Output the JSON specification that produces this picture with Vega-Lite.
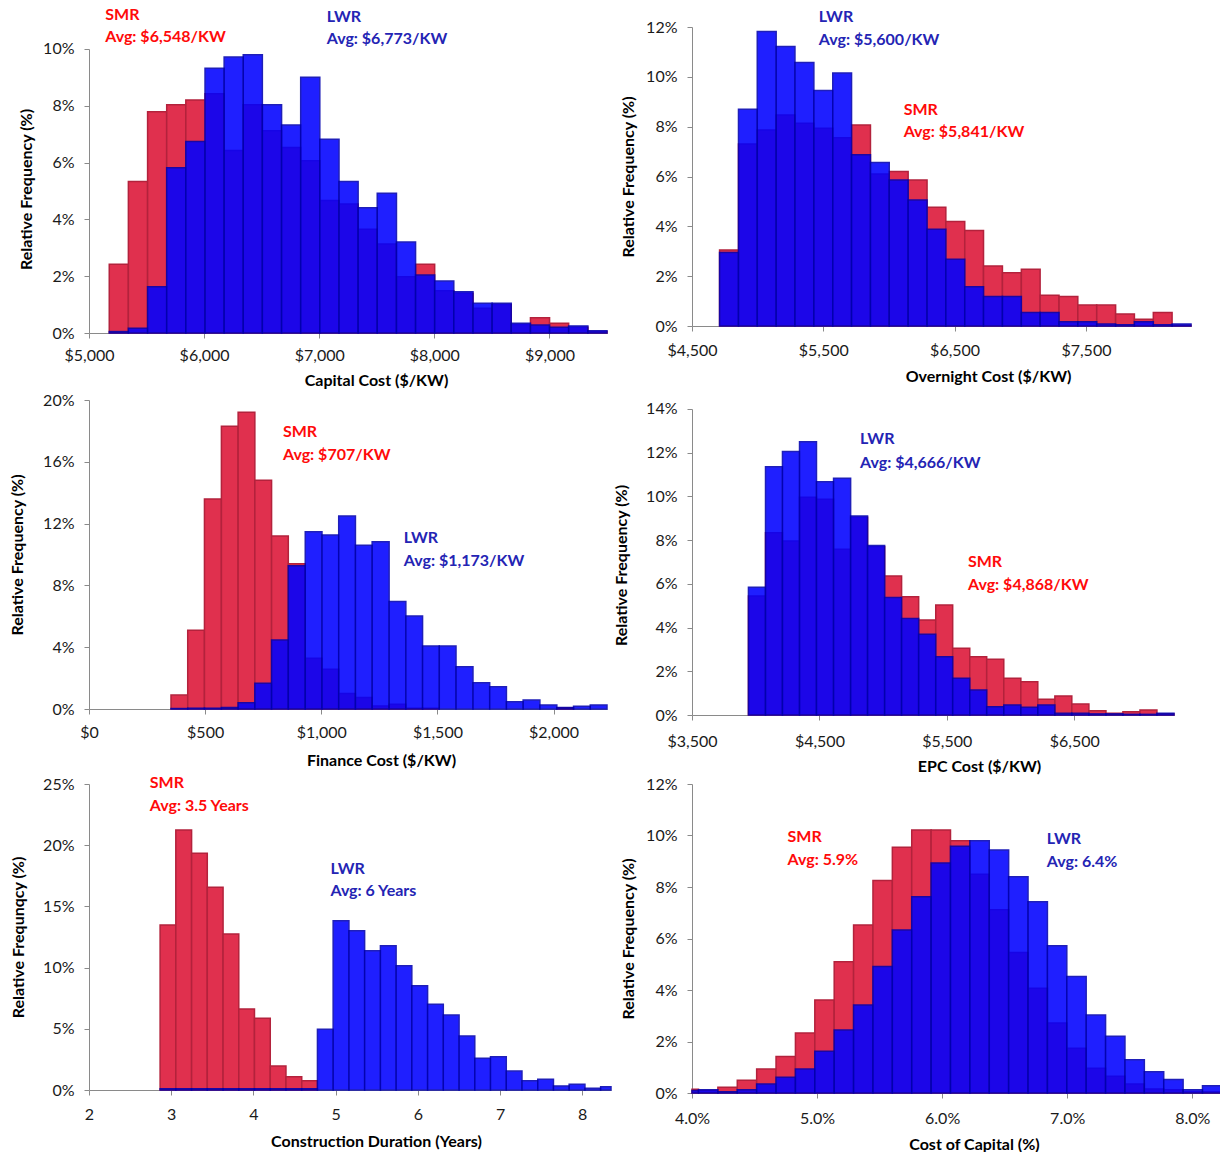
{
  "$schema": "https://vega.github.io/schema/vega-lite/v6.json",
  "background": "white",
  "padding": {"left": 9, "top": 7, "right": 0, "bottom": 0},
  "datasets": {
    "bars": [
      {"panel":"cap","series":"SMR","start":5176,"end":5342,"freq":2.42},
      {"panel":"cap","series":"SMR","start":5342,"end":5509,"freq":5.33},
      {"panel":"cap","series":"SMR","start":5509,"end":5675,"freq":7.79},
      {"panel":"cap","series":"SMR","start":5675,"end":5841,"freq":8.03},
      {"panel":"cap","series":"SMR","start":5841,"end":6008,"freq":8.2},
      {"panel":"cap","series":"SMR","start":6008,"end":6174,"freq":8.42},
      {"panel":"cap","series":"SMR","start":6174,"end":6340,"freq":6.42},
      {"panel":"cap","series":"SMR","start":6340,"end":6506,"freq":8.03},
      {"panel":"cap","series":"SMR","start":6506,"end":6673,"freq":7.12},
      {"panel":"cap","series":"SMR","start":6673,"end":6839,"freq":6.53},
      {"panel":"cap","series":"SMR","start":6839,"end":7005,"freq":6.06},
      {"panel":"cap","series":"SMR","start":7005,"end":7172,"freq":4.66},
      {"panel":"cap","series":"SMR","start":7172,"end":7338,"freq":4.54},
      {"panel":"cap","series":"SMR","start":7338,"end":7504,"freq":3.65},
      {"panel":"cap","series":"SMR","start":7504,"end":7671,"freq":3.13},
      {"panel":"cap","series":"SMR","start":7671,"end":7837,"freq":1.98},
      {"panel":"cap","series":"SMR","start":7837,"end":8003,"freq":2.42},
      {"panel":"cap","series":"SMR","start":8003,"end":8169,"freq":1.49},
      {"panel":"cap","series":"SMR","start":8169,"end":8336,"freq":1.4},
      {"panel":"cap","series":"SMR","start":8336,"end":8502,"freq":0.87},
      {"panel":"cap","series":"SMR","start":8502,"end":8668,"freq":1.0},
      {"panel":"cap","series":"SMR","start":8668,"end":8835,"freq":0.3},
      {"panel":"cap","series":"SMR","start":8835,"end":9001,"freq":0.54},
      {"panel":"cap","series":"SMR","start":9001,"end":9167,"freq":0.34},
      {"panel":"cap","series":"SMR","start":9167,"end":9334,"freq":0.2},
      {"panel":"cap","series":"SMR","start":9334,"end":9500,"freq":0.05},
      {"panel":"cap","series":"LWR","start":5176,"end":5342,"freq":0.05},
      {"panel":"cap","series":"LWR","start":5342,"end":5509,"freq":0.17},
      {"panel":"cap","series":"LWR","start":5509,"end":5675,"freq":1.63},
      {"panel":"cap","series":"LWR","start":5675,"end":5841,"freq":5.82},
      {"panel":"cap","series":"LWR","start":5841,"end":6008,"freq":6.74},
      {"panel":"cap","series":"LWR","start":6008,"end":6174,"freq":9.32},
      {"panel":"cap","series":"LWR","start":6174,"end":6340,"freq":9.71},
      {"panel":"cap","series":"LWR","start":6340,"end":6506,"freq":9.79},
      {"panel":"cap","series":"LWR","start":6506,"end":6673,"freq":8.03},
      {"panel":"cap","series":"LWR","start":6673,"end":6839,"freq":7.32},
      {"panel":"cap","series":"LWR","start":6839,"end":7005,"freq":9.0},
      {"panel":"cap","series":"LWR","start":7005,"end":7172,"freq":6.82},
      {"panel":"cap","series":"LWR","start":7172,"end":7338,"freq":5.33},
      {"panel":"cap","series":"LWR","start":7338,"end":7504,"freq":4.41},
      {"panel":"cap","series":"LWR","start":7504,"end":7671,"freq":4.92},
      {"panel":"cap","series":"LWR","start":7671,"end":7837,"freq":3.2},
      {"panel":"cap","series":"LWR","start":7837,"end":8003,"freq":2.04},
      {"panel":"cap","series":"LWR","start":8003,"end":8169,"freq":1.83},
      {"panel":"cap","series":"LWR","start":8169,"end":8336,"freq":1.45},
      {"panel":"cap","series":"LWR","start":8336,"end":8502,"freq":1.05},
      {"panel":"cap","series":"LWR","start":8502,"end":8668,"freq":1.05},
      {"panel":"cap","series":"LWR","start":8668,"end":8835,"freq":0.34},
      {"panel":"cap","series":"LWR","start":8835,"end":9001,"freq":0.28},
      {"panel":"cap","series":"LWR","start":9001,"end":9167,"freq":0.2},
      {"panel":"cap","series":"LWR","start":9167,"end":9334,"freq":0.25},
      {"panel":"cap","series":"LWR","start":9334,"end":9500,"freq":0.08},

      {"panel":"ovn","series":"SMR","start":4710,"end":4854,"freq":3.05},
      {"panel":"ovn","series":"SMR","start":4854,"end":4997,"freq":7.3},
      {"panel":"ovn","series":"SMR","start":4997,"end":5141,"freq":7.87},
      {"panel":"ovn","series":"SMR","start":5141,"end":5284,"freq":8.47},
      {"panel":"ovn","series":"SMR","start":5284,"end":5428,"freq":8.14},
      {"panel":"ovn","series":"SMR","start":5428,"end":5572,"freq":7.94},
      {"panel":"ovn","series":"SMR","start":5572,"end":5715,"freq":7.56},
      {"panel":"ovn","series":"SMR","start":5715,"end":5859,"freq":8.07},
      {"panel":"ovn","series":"SMR","start":5859,"end":6002,"freq":6.1},
      {"panel":"ovn","series":"SMR","start":6002,"end":6146,"freq":6.2},
      {"panel":"ovn","series":"SMR","start":6146,"end":6290,"freq":5.86},
      {"panel":"ovn","series":"SMR","start":6290,"end":6433,"freq":4.77},
      {"panel":"ovn","series":"SMR","start":6433,"end":6577,"freq":4.19},
      {"panel":"ovn","series":"SMR","start":6577,"end":6720,"freq":3.83},
      {"panel":"ovn","series":"SMR","start":6720,"end":6864,"freq":2.41},
      {"panel":"ovn","series":"SMR","start":6864,"end":7008,"freq":2.14},
      {"panel":"ovn","series":"SMR","start":7008,"end":7151,"freq":2.28},
      {"panel":"ovn","series":"SMR","start":7151,"end":7295,"freq":1.23},
      {"panel":"ovn","series":"SMR","start":7295,"end":7438,"freq":1.18},
      {"panel":"ovn","series":"SMR","start":7438,"end":7582,"freq":0.84},
      {"panel":"ovn","series":"SMR","start":7582,"end":7726,"freq":0.84},
      {"panel":"ovn","series":"SMR","start":7726,"end":7869,"freq":0.48},
      {"panel":"ovn","series":"SMR","start":7869,"end":8013,"freq":0.27},
      {"panel":"ovn","series":"SMR","start":8013,"end":8156,"freq":0.54},
      {"panel":"ovn","series":"SMR","start":8156,"end":8300,"freq":0.03},
      {"panel":"ovn","series":"LWR","start":4710,"end":4854,"freq":2.95},
      {"panel":"ovn","series":"LWR","start":4854,"end":4997,"freq":8.7},
      {"panel":"ovn","series":"LWR","start":4997,"end":5141,"freq":11.82},
      {"panel":"ovn","series":"LWR","start":5141,"end":5284,"freq":11.22},
      {"panel":"ovn","series":"LWR","start":5284,"end":5428,"freq":10.58},
      {"panel":"ovn","series":"LWR","start":5428,"end":5572,"freq":9.45},
      {"panel":"ovn","series":"LWR","start":5572,"end":5715,"freq":10.15},
      {"panel":"ovn","series":"LWR","start":5715,"end":5859,"freq":6.87},
      {"panel":"ovn","series":"LWR","start":5859,"end":6002,"freq":6.56},
      {"panel":"ovn","series":"LWR","start":6002,"end":6146,"freq":5.86},
      {"panel":"ovn","series":"LWR","start":6146,"end":6290,"freq":5.06},
      {"panel":"ovn","series":"LWR","start":6290,"end":6433,"freq":3.88},
      {"panel":"ovn","series":"LWR","start":6433,"end":6577,"freq":2.68},
      {"panel":"ovn","series":"LWR","start":6577,"end":6720,"freq":1.58},
      {"panel":"ovn","series":"LWR","start":6720,"end":6864,"freq":1.18},
      {"panel":"ovn","series":"LWR","start":6864,"end":7008,"freq":1.18},
      {"panel":"ovn","series":"LWR","start":7008,"end":7151,"freq":0.54},
      {"panel":"ovn","series":"LWR","start":7151,"end":7295,"freq":0.54},
      {"panel":"ovn","series":"LWR","start":7295,"end":7438,"freq":0.17},
      {"panel":"ovn","series":"LWR","start":7438,"end":7582,"freq":0.17},
      {"panel":"ovn","series":"LWR","start":7582,"end":7726,"freq":0.08},
      {"panel":"ovn","series":"LWR","start":7726,"end":7869,"freq":0.05},
      {"panel":"ovn","series":"LWR","start":7869,"end":8013,"freq":0.17},
      {"panel":"ovn","series":"LWR","start":8013,"end":8156,"freq":0.05},
      {"panel":"ovn","series":"LWR","start":8156,"end":8300,"freq":0.08},

      {"panel":"fin","series":"SMR","start":353,"end":425,"freq":0.9},
      {"panel":"fin","series":"SMR","start":425,"end":497,"freq":5.1},
      {"panel":"fin","series":"SMR","start":497,"end":570,"freq":13.6},
      {"panel":"fin","series":"SMR","start":570,"end":642,"freq":18.3},
      {"panel":"fin","series":"SMR","start":642,"end":714,"freq":19.2},
      {"panel":"fin","series":"SMR","start":714,"end":786,"freq":14.8},
      {"panel":"fin","series":"SMR","start":786,"end":858,"freq":11.2},
      {"panel":"fin","series":"SMR","start":858,"end":931,"freq":9.4},
      {"panel":"fin","series":"SMR","start":931,"end":1003,"freq":3.28},
      {"panel":"fin","series":"SMR","start":1003,"end":1075,"freq":2.57},
      {"panel":"fin","series":"SMR","start":1075,"end":1147,"freq":1.0},
      {"panel":"fin","series":"SMR","start":1147,"end":1219,"freq":0.75},
      {"panel":"fin","series":"SMR","start":1219,"end":1292,"freq":0.2},
      {"panel":"fin","series":"SMR","start":1292,"end":1364,"freq":0.3},
      {"panel":"fin","series":"SMR","start":1364,"end":1436,"freq":0.05},
      {"panel":"fin","series":"SMR","start":1436,"end":1508,"freq":0.05},
      {"panel":"fin","series":"SMR","start":2014,"end":2086,"freq":0.08},
      {"panel":"fin","series":"LWR","start":353,"end":425,"freq":0.03},
      {"panel":"fin","series":"LWR","start":425,"end":497,"freq":0.05},
      {"panel":"fin","series":"LWR","start":497,"end":570,"freq":0.05},
      {"panel":"fin","series":"LWR","start":570,"end":642,"freq":0.1},
      {"panel":"fin","series":"LWR","start":642,"end":714,"freq":0.4},
      {"panel":"fin","series":"LWR","start":714,"end":786,"freq":1.66},
      {"panel":"fin","series":"LWR","start":786,"end":858,"freq":4.47},
      {"panel":"fin","series":"LWR","start":858,"end":931,"freq":9.27},
      {"panel":"fin","series":"LWR","start":931,"end":1003,"freq":11.48},
      {"panel":"fin","series":"LWR","start":1003,"end":1075,"freq":11.26},
      {"panel":"fin","series":"LWR","start":1075,"end":1147,"freq":12.5},
      {"panel":"fin","series":"LWR","start":1147,"end":1219,"freq":10.6},
      {"panel":"fin","series":"LWR","start":1219,"end":1292,"freq":10.83},
      {"panel":"fin","series":"LWR","start":1292,"end":1364,"freq":6.95},
      {"panel":"fin","series":"LWR","start":1364,"end":1436,"freq":6.02},
      {"panel":"fin","series":"LWR","start":1436,"end":1508,"freq":4.08},
      {"panel":"fin","series":"LWR","start":1508,"end":1580,"freq":4.08},
      {"panel":"fin","series":"LWR","start":1580,"end":1653,"freq":2.74},
      {"panel":"fin","series":"LWR","start":1653,"end":1725,"freq":1.7},
      {"panel":"fin","series":"LWR","start":1725,"end":1797,"freq":1.44},
      {"panel":"fin","series":"LWR","start":1797,"end":1869,"freq":0.47},
      {"panel":"fin","series":"LWR","start":1869,"end":1941,"freq":0.58},
      {"panel":"fin","series":"LWR","start":1941,"end":2014,"freq":0.26},
      {"panel":"fin","series":"LWR","start":2014,"end":2086,"freq":0.1},
      {"panel":"fin","series":"LWR","start":2086,"end":2158,"freq":0.17},
      {"panel":"fin","series":"LWR","start":2158,"end":2230,"freq":0.26},

      {"panel":"epc","series":"SMR","start":3943,"end":4077,"freq":5.44},
      {"panel":"epc","series":"SMR","start":4077,"end":4210,"freq":8.34},
      {"panel":"epc","series":"SMR","start":4210,"end":4344,"freq":7.96},
      {"panel":"epc","series":"SMR","start":4344,"end":4477,"freq":9.96},
      {"panel":"epc","series":"SMR","start":4477,"end":4611,"freq":9.87},
      {"panel":"epc","series":"SMR","start":4611,"end":4745,"freq":7.58},
      {"panel":"epc","series":"SMR","start":4745,"end":4878,"freq":9.05},
      {"panel":"epc","series":"SMR","start":4878,"end":5012,"freq":7.7},
      {"panel":"epc","series":"SMR","start":5012,"end":5145,"freq":6.36},
      {"panel":"epc","series":"SMR","start":5145,"end":5279,"freq":5.41},
      {"panel":"epc","series":"SMR","start":5279,"end":5413,"freq":4.35},
      {"panel":"epc","series":"SMR","start":5413,"end":5546,"freq":5.03},
      {"panel":"epc","series":"SMR","start":5546,"end":5680,"freq":3.05},
      {"panel":"epc","series":"SMR","start":5680,"end":5813,"freq":2.67},
      {"panel":"epc","series":"SMR","start":5813,"end":5947,"freq":2.55},
      {"panel":"epc","series":"SMR","start":5947,"end":6081,"freq":1.68},
      {"panel":"epc","series":"SMR","start":6081,"end":6214,"freq":1.52},
      {"panel":"epc","series":"SMR","start":6214,"end":6348,"freq":0.72},
      {"panel":"epc","series":"SMR","start":6348,"end":6481,"freq":0.87},
      {"panel":"epc","series":"SMR","start":6481,"end":6615,"freq":0.5},
      {"panel":"epc","series":"SMR","start":6615,"end":6749,"freq":0.2},
      {"panel":"epc","series":"SMR","start":6749,"end":6882,"freq":0.08},
      {"panel":"epc","series":"SMR","start":6882,"end":7016,"freq":0.15},
      {"panel":"epc","series":"SMR","start":7016,"end":7149,"freq":0.23},
      {"panel":"epc","series":"SMR","start":7149,"end":7283,"freq":0.05},
      {"panel":"epc","series":"LWR","start":3943,"end":4077,"freq":5.84},
      {"panel":"epc","series":"LWR","start":4077,"end":4210,"freq":11.36},
      {"panel":"epc","series":"LWR","start":4210,"end":4344,"freq":12.05},
      {"panel":"epc","series":"LWR","start":4344,"end":4477,"freq":12.5},
      {"panel":"epc","series":"LWR","start":4477,"end":4611,"freq":10.67},
      {"panel":"epc","series":"LWR","start":4611,"end":4745,"freq":10.83},
      {"panel":"epc","series":"LWR","start":4745,"end":4878,"freq":9.1},
      {"panel":"epc","series":"LWR","start":4878,"end":5012,"freq":7.75},
      {"panel":"epc","series":"LWR","start":5012,"end":5145,"freq":5.38},
      {"panel":"epc","series":"LWR","start":5145,"end":5279,"freq":4.42},
      {"panel":"epc","series":"LWR","start":5279,"end":5413,"freq":3.69},
      {"panel":"epc","series":"LWR","start":5413,"end":5546,"freq":2.67},
      {"panel":"epc","series":"LWR","start":5546,"end":5680,"freq":1.68},
      {"panel":"epc","series":"LWR","start":5680,"end":5813,"freq":1.14},
      {"panel":"epc","series":"LWR","start":5813,"end":5947,"freq":0.38},
      {"panel":"epc","series":"LWR","start":5947,"end":6081,"freq":0.46},
      {"panel":"epc","series":"LWR","start":6081,"end":6214,"freq":0.35},
      {"panel":"epc","series":"LWR","start":6214,"end":6348,"freq":0.46},
      {"panel":"epc","series":"LWR","start":6348,"end":6481,"freq":0.08},
      {"panel":"epc","series":"LWR","start":6481,"end":6615,"freq":0.08},
      {"panel":"epc","series":"LWR","start":6615,"end":6749,"freq":0.05},
      {"panel":"epc","series":"LWR","start":6749,"end":6882,"freq":0.05},
      {"panel":"epc","series":"LWR","start":6882,"end":7016,"freq":0.03},
      {"panel":"epc","series":"LWR","start":7016,"end":7149,"freq":0.03},
      {"panel":"epc","series":"LWR","start":7149,"end":7283,"freq":0.08},

      {"panel":"dur","series":"SMR","start":2.865,"end":3.056,"freq":13.48},
      {"panel":"dur","series":"SMR","start":3.056,"end":3.248,"freq":21.24},
      {"panel":"dur","series":"SMR","start":3.248,"end":3.439,"freq":19.34},
      {"panel":"dur","series":"SMR","start":3.439,"end":3.631,"freq":16.56},
      {"panel":"dur","series":"SMR","start":3.631,"end":3.822,"freq":12.75},
      {"panel":"dur","series":"SMR","start":3.822,"end":4.013,"freq":6.62},
      {"panel":"dur","series":"SMR","start":4.013,"end":4.205,"freq":5.86},
      {"panel":"dur","series":"SMR","start":4.205,"end":4.396,"freq":1.96},
      {"panel":"dur","series":"SMR","start":4.396,"end":4.588,"freq":1.09},
      {"panel":"dur","series":"SMR","start":4.588,"end":4.779,"freq":0.76},
      {"panel":"dur","series":"LWR","start":2.865,"end":3.056,"freq":0.1},
      {"panel":"dur","series":"LWR","start":3.056,"end":3.248,"freq":0.1},
      {"panel":"dur","series":"LWR","start":3.248,"end":3.439,"freq":0.1},
      {"panel":"dur","series":"LWR","start":3.439,"end":3.631,"freq":0.1},
      {"panel":"dur","series":"LWR","start":3.631,"end":3.822,"freq":0.1},
      {"panel":"dur","series":"LWR","start":3.822,"end":4.013,"freq":0.1},
      {"panel":"dur","series":"LWR","start":4.013,"end":4.205,"freq":0.1},
      {"panel":"dur","series":"LWR","start":4.205,"end":4.396,"freq":0.1},
      {"panel":"dur","series":"LWR","start":4.396,"end":4.588,"freq":0.1},
      {"panel":"dur","series":"LWR","start":4.588,"end":4.779,"freq":0.1},
      {"panel":"dur","series":"LWR","start":4.779,"end":4.970,"freq":4.96},
      {"panel":"dur","series":"LWR","start":4.970,"end":5.162,"freq":13.83},
      {"panel":"dur","series":"LWR","start":5.162,"end":5.353,"freq":13.01},
      {"panel":"dur","series":"LWR","start":5.353,"end":5.545,"freq":11.38},
      {"panel":"dur","series":"LWR","start":5.545,"end":5.736,"freq":11.79},
      {"panel":"dur","series":"LWR","start":5.736,"end":5.927,"freq":10.16},
      {"panel":"dur","series":"LWR","start":5.927,"end":6.119,"freq":8.52},
      {"panel":"dur","series":"LWR","start":6.119,"end":6.310,"freq":7.0},
      {"panel":"dur","series":"LWR","start":6.310,"end":6.502,"freq":6.13},
      {"panel":"dur","series":"LWR","start":6.502,"end":6.693,"freq":4.41},
      {"panel":"dur","series":"LWR","start":6.693,"end":6.884,"freq":2.59},
      {"panel":"dur","series":"LWR","start":6.884,"end":7.076,"freq":2.72},
      {"panel":"dur","series":"LWR","start":7.076,"end":7.267,"freq":1.55},
      {"panel":"dur","series":"LWR","start":7.267,"end":7.459,"freq":0.76},
      {"panel":"dur","series":"LWR","start":7.459,"end":7.650,"freq":0.87},
      {"panel":"dur","series":"LWR","start":7.650,"end":7.841,"freq":0.33},
      {"panel":"dur","series":"LWR","start":7.841,"end":8.033,"freq":0.46},
      {"panel":"dur","series":"LWR","start":8.033,"end":8.224,"freq":0.14},
      {"panel":"dur","series":"LWR","start":8.224,"end":8.35,"freq":0.27},

      {"panel":"coc","series":"SMR","start":4.0,"end":4.052,"freq":0.15},
      {"panel":"coc","series":"SMR","start":4.052,"end":4.207,"freq":0.1},
      {"panel":"coc","series":"SMR","start":4.207,"end":4.362,"freq":0.22},
      {"panel":"coc","series":"SMR","start":4.362,"end":4.517,"freq":0.5},
      {"panel":"coc","series":"SMR","start":4.517,"end":4.672,"freq":0.93},
      {"panel":"coc","series":"SMR","start":4.672,"end":4.827,"freq":1.42},
      {"panel":"coc","series":"SMR","start":4.827,"end":4.982,"freq":2.33},
      {"panel":"coc","series":"SMR","start":4.982,"end":5.137,"freq":3.61},
      {"panel":"coc","series":"SMR","start":5.137,"end":5.292,"freq":5.1},
      {"panel":"coc","series":"SMR","start":5.292,"end":5.447,"freq":6.52},
      {"panel":"coc","series":"SMR","start":5.447,"end":5.602,"freq":8.25},
      {"panel":"coc","series":"SMR","start":5.602,"end":5.757,"freq":9.54},
      {"panel":"coc","series":"SMR","start":5.757,"end":5.912,"freq":10.21},
      {"panel":"coc","series":"SMR","start":5.912,"end":6.067,"freq":10.21},
      {"panel":"coc","series":"SMR","start":6.067,"end":6.222,"freq":9.8},
      {"panel":"coc","series":"SMR","start":6.222,"end":6.377,"freq":8.5},
      {"panel":"coc","series":"SMR","start":6.377,"end":6.532,"freq":7.12},
      {"panel":"coc","series":"SMR","start":6.532,"end":6.687,"freq":5.46},
      {"panel":"coc","series":"SMR","start":6.687,"end":6.842,"freq":4.07},
      {"panel":"coc","series":"SMR","start":6.842,"end":6.997,"freq":2.72},
      {"panel":"coc","series":"SMR","start":6.997,"end":7.152,"freq":1.74},
      {"panel":"coc","series":"SMR","start":7.152,"end":7.307,"freq":0.96},
      {"panel":"coc","series":"SMR","start":7.307,"end":7.462,"freq":0.65},
      {"panel":"coc","series":"SMR","start":7.462,"end":7.617,"freq":0.35},
      {"panel":"coc","series":"SMR","start":7.617,"end":7.772,"freq":0.16},
      {"panel":"coc","series":"SMR","start":7.772,"end":7.927,"freq":0.13},
      {"panel":"coc","series":"SMR","start":7.927,"end":8.082,"freq":0.05},
      {"panel":"coc","series":"SMR","start":8.082,"end":8.23,"freq":0.05},
      {"panel":"coc","series":"LWR","start":4.0,"end":4.052,"freq":0.1},
      {"panel":"coc","series":"LWR","start":4.052,"end":4.207,"freq":0.13},
      {"panel":"coc","series":"LWR","start":4.207,"end":4.362,"freq":0.05},
      {"panel":"coc","series":"LWR","start":4.362,"end":4.517,"freq":0.13},
      {"panel":"coc","series":"LWR","start":4.517,"end":4.672,"freq":0.35},
      {"panel":"coc","series":"LWR","start":4.672,"end":4.827,"freq":0.61},
      {"panel":"coc","series":"LWR","start":4.827,"end":4.982,"freq":0.93},
      {"panel":"coc","series":"LWR","start":4.982,"end":5.137,"freq":1.62},
      {"panel":"coc","series":"LWR","start":5.137,"end":5.292,"freq":2.45},
      {"panel":"coc","series":"LWR","start":5.292,"end":5.447,"freq":3.42},
      {"panel":"coc","series":"LWR","start":5.447,"end":5.602,"freq":4.91},
      {"panel":"coc","series":"LWR","start":5.602,"end":5.757,"freq":6.33},
      {"panel":"coc","series":"LWR","start":5.757,"end":5.912,"freq":7.62},
      {"panel":"coc","series":"LWR","start":5.912,"end":6.067,"freq":8.93},
      {"panel":"coc","series":"LWR","start":6.067,"end":6.222,"freq":9.58},
      {"panel":"coc","series":"LWR","start":6.222,"end":6.377,"freq":9.8},
      {"panel":"coc","series":"LWR","start":6.377,"end":6.532,"freq":9.44},
      {"panel":"coc","series":"LWR","start":6.532,"end":6.687,"freq":8.4},
      {"panel":"coc","series":"LWR","start":6.687,"end":6.842,"freq":7.43},
      {"panel":"coc","series":"LWR","start":6.842,"end":6.997,"freq":5.72},
      {"panel":"coc","series":"LWR","start":6.997,"end":7.152,"freq":4.52},
      {"panel":"coc","series":"LWR","start":7.152,"end":7.307,"freq":3.03},
      {"panel":"coc","series":"LWR","start":7.307,"end":7.462,"freq":2.2},
      {"panel":"coc","series":"LWR","start":7.462,"end":7.617,"freq":1.29},
      {"panel":"coc","series":"LWR","start":7.617,"end":7.772,"freq":0.83},
      {"panel":"coc","series":"LWR","start":7.772,"end":7.927,"freq":0.52},
      {"panel":"coc","series":"LWR","start":7.927,"end":8.082,"freq":0.13},
      {"panel":"coc","series":"LWR","start":8.082,"end":8.23,"freq":0.28}
    ],
    "notes": [
      {"panel":"cap","series":"SMR","x":5141,"y":11.19,"label":"SMR"},
      {"panel":"cap","series":"SMR","x":5141,"y":10.42,"label":"Avg: $6,548/KW"},
      {"panel":"cap","series":"LWR","x":7065,"y":11.12,"label":"LWR"},
      {"panel":"cap","series":"LWR","x":7065,"y":10.35,"label":"Avg: $6,773/KW"},
      {"panel":"ovn","series":"LWR","x":5466,"y":12.42,"label":"LWR"},
      {"panel":"ovn","series":"LWR","x":5466,"y":11.46,"label":"Avg: $5,600/KW"},
      {"panel":"ovn","series":"SMR","x":6112,"y":8.67,"label":"SMR"},
      {"panel":"ovn","series":"SMR","x":6112,"y":7.8,"label":"Avg: $5,841/KW"},
      {"panel":"fin","series":"SMR","x":835,"y":17.93,"label":"SMR"},
      {"panel":"fin","series":"SMR","x":835,"y":16.44,"label":"Avg: $707/KW"},
      {"panel":"fin","series":"LWR","x":1355,"y":11.1,"label":"LWR"},
      {"panel":"fin","series":"LWR","x":1355,"y":9.58,"label":"Avg: $1,173/KW"},
      {"panel":"epc","series":"LWR","x":4819,"y":12.63,"label":"LWR"},
      {"panel":"epc","series":"LWR","x":4819,"y":11.55,"label":"Avg: $4,666/KW"},
      {"panel":"epc","series":"SMR","x":5666,"y":7.0,"label":"SMR"},
      {"panel":"epc","series":"SMR","x":5666,"y":5.95,"label":"Avg: $4,868/KW"},
      {"panel":"dur","series":"SMR","x":2.74,"y":25.08,"label":"SMR"},
      {"panel":"dur","series":"SMR","x":2.74,"y":23.2,"label":"Avg: 3.5 Years"},
      {"panel":"dur","series":"LWR","x":4.937,"y":18.06,"label":"LWR"},
      {"panel":"dur","series":"LWR","x":4.937,"y":16.22,"label":"Avg: 6 Years"},
      {"panel":"coc","series":"SMR","x":4.764,"y":9.96,"label":"SMR"},
      {"panel":"coc","series":"SMR","x":4.764,"y":9.05,"label":"Avg: 5.9%"},
      {"panel":"coc","series":"LWR","x":6.837,"y":9.88,"label":"LWR"},
      {"panel":"coc","series":"LWR","x":6.837,"y":8.99,"label":"Avg: 6.4%"}
    ]
  },
  "spacing": 4,
  "vconcat": [
    {
      "spacing": 12,
      "hconcat": [
        {
          "width": 518, "height": 306,
          "layer": [
            {"data": {"name": "bars"}, "transform": [{"filter": "datum.panel == 'cap' && datum.series == 'SMR'"}],
             "mark": {"type": "bar", "fill": "#e0304e", "stroke": "#b3223c", "strokeWidth": 1.5},
             "encoding": {
               "x": {"field": "start", "type": "quantitative", "title": "Capital Cost ($/KW)", "scale": {"domain": [5000, 9500], "nice": false, "zero": false, "padding": 0}, "axis": {"values": [5000, 6000, 7000, 8000, 9000], "format": "$,.0f", "titleX": 287, "labelPadding": 9, "titlePadding": 9}},
               "x2": {"field": "end"},
               "y": {"field": "freq", "type": "quantitative", "title": "Relative Frequency (%)", "scale": {"domain": [0, 10.77], "nice": false, "padding": 0}, "axis": {"values": [0, 2, 4, 6, 8, 10], "labelExpr": "datum.value + '%'", "titlePadding": 8, "titleY": 162, "domainDash": [284, 1000]}},
               "y2": {"datum": 0}
             }},
            {"data": {"name": "bars"}, "transform": [{"filter": "datum.panel == 'cap' && datum.series == 'LWR'"}],
             "mark": {"type": "bar", "fill": "#0000ff", "stroke": "#0000b0", "strokeWidth": 1.5, "opacity": 0.875},
             "encoding": {
               "x": {"field": "start", "type": "quantitative", "title": "Capital Cost ($/KW)", "scale": {"domain": [5000, 9500], "nice": false, "zero": false, "padding": 0}},
               "x2": {"field": "end"},
               "y": {"field": "freq", "type": "quantitative", "title": "Relative Frequency (%)", "scale": {"domain": [0, 10.77], "nice": false, "padding": 0}},
               "y2": {"datum": 0}
             }},
            {"data": {"name": "notes"}, "transform": [{"filter": "datum.panel == 'cap'"}],
             "mark": {"type": "text", "align": "left", "baseline": "middle", "fontSize": 16, "fontWeight": "bold"},
             "encoding": {
               "x": {"field": "x", "type": "quantitative", "title": "Capital Cost ($/KW)", "scale": {"domain": [5000, 9500], "nice": false, "zero": false, "padding": 0}},
               "y": {"field": "y", "type": "quantitative", "title": "Relative Frequency (%)", "scale": {"domain": [0, 10.77], "nice": false, "padding": 0}},
               "text": {"field": "label"},
               "color": {"field": "series", "type": "nominal", "scale": {"domain": ["SMR", "LWR"], "range": ["#ff0a0a", "#2424b4"]}, "legend": null}
             }}
          ]
        },
        {
          "width": 499, "height": 299,
          "layer": [
            {"data": {"name": "bars"}, "transform": [{"filter": "datum.panel == 'ovn' && datum.series == 'SMR'"}],
             "mark": {"type": "bar", "fill": "#e0304e", "stroke": "#b3223c", "strokeWidth": 1.5},
             "encoding": {
               "x": {"field": "start", "type": "quantitative", "title": "Overnight Cost ($/KW)", "scale": {"domain": [4500, 8300], "nice": false, "zero": false, "padding": 0}, "axis": {"values": [4500, 5500, 6500, 7500], "format": "$,.0f", "titleX": 296, "labelPadding": 11, "titlePadding": 10}},
               "x2": {"field": "end"},
               "y": {"field": "freq", "type": "quantitative", "title": "Relative Frequency (%)", "scale": {"domain": [0, 12], "nice": false, "padding": 0}, "axis": {"values": [0, 2, 4, 6, 8, 10, 12], "labelExpr": "datum.value + '%'", "titlePadding": 9}},
               "y2": {"datum": 0}
             }},
            {"data": {"name": "bars"}, "transform": [{"filter": "datum.panel == 'ovn' && datum.series == 'LWR'"}],
             "mark": {"type": "bar", "fill": "#0000ff", "stroke": "#0000b0", "strokeWidth": 1.5, "opacity": 0.875},
             "encoding": {
               "x": {"field": "start", "type": "quantitative", "title": "Overnight Cost ($/KW)", "scale": {"domain": [4500, 8300], "nice": false, "zero": false, "padding": 0}},
               "x2": {"field": "end"},
               "y": {"field": "freq", "type": "quantitative", "title": "Relative Frequency (%)", "scale": {"domain": [0, 12], "nice": false, "padding": 0}},
               "y2": {"datum": 0}
             }},
            {"data": {"name": "notes"}, "transform": [{"filter": "datum.panel == 'ovn'"}],
             "mark": {"type": "text", "align": "left", "baseline": "middle", "fontSize": 16, "fontWeight": "bold"},
             "encoding": {
               "x": {"field": "x", "type": "quantitative", "title": "Overnight Cost ($/KW)", "scale": {"domain": [4500, 8300], "nice": false, "zero": false, "padding": 0}},
               "y": {"field": "y", "type": "quantitative", "title": "Relative Frequency (%)", "scale": {"domain": [0, 12], "nice": false, "padding": 0}},
               "text": {"field": "label"},
               "color": {"field": "series", "type": "nominal", "scale": {"domain": ["SMR", "LWR"], "range": ["#ff0a0a", "#2424b4"]}, "legend": null}
             }}
          ]
        }
      ]
    },
    {
      "spacing": 1,
      "vconcat": [
        {
          "spacing": 5,
          "hconcat": [
            {
              "width": 518, "height": 309,
              "layer": [
                {"data": {"name": "bars"}, "transform": [{"filter": "datum.panel == 'fin' && datum.series == 'SMR'"}],
                 "mark": {"type": "bar", "fill": "#e0304e", "stroke": "#b3223c", "strokeWidth": 1.5},
                 "encoding": {
                   "x": {"field": "start", "type": "quantitative", "title": "Finance Cost ($/KW)", "scale": {"domain": [0, 2230], "nice": false, "zero": false, "padding": 0}, "axis": {"values": [0, 500, 1000, 1500, 2000], "format": "$,.0f", "titleX": 292, "labelPadding": 10, "titlePadding": 12}},
                   "x2": {"field": "end"},
                   "y": {"field": "freq", "type": "quantitative", "title": "Relative Frequency (%)", "scale": {"domain": [0, 20], "nice": false, "padding": 0}, "axis": {"values": [0, 4, 8, 12, 16, 20], "labelExpr": "datum.value + '%'", "titlePadding": 17}},
                   "y2": {"datum": 0}
                 }},
                {"data": {"name": "bars"}, "transform": [{"filter": "datum.panel == 'fin' && datum.series == 'LWR'"}],
                 "mark": {"type": "bar", "fill": "#0000ff", "stroke": "#0000b0", "strokeWidth": 1.5, "opacity": 0.875},
                 "encoding": {
                   "x": {"field": "start", "type": "quantitative", "title": "Finance Cost ($/KW)", "scale": {"domain": [0, 2230], "nice": false, "zero": false, "padding": 0}},
                   "x2": {"field": "end"},
                   "y": {"field": "freq", "type": "quantitative", "title": "Relative Frequency (%)", "scale": {"domain": [0, 20], "nice": false, "padding": 0}},
                   "y2": {"datum": 0}
                 }},
                {"data": {"name": "notes"}, "transform": [{"filter": "datum.panel == 'fin'"}],
                 "mark": {"type": "text", "align": "left", "baseline": "middle", "fontSize": 16, "fontWeight": "bold"},
                 "encoding": {
                   "x": {"field": "x", "type": "quantitative", "title": "Finance Cost ($/KW)", "scale": {"domain": [0, 2230], "nice": false, "zero": false, "padding": 0}},
                   "y": {"field": "y", "type": "quantitative", "title": "Relative Frequency (%)", "scale": {"domain": [0, 20], "nice": false, "padding": 0}},
                   "text": {"field": "label"},
                   "color": {"field": "series", "type": "nominal", "scale": {"domain": ["SMR", "LWR"], "range": ["#ff0a0a", "#2424b4"]}, "legend": null}
                 }}
              ]
            },
            {
              "width": 482, "height": 315,
              "layer": [
                {"data": {"name": "bars"}, "transform": [{"filter": "datum.panel == 'epc' && datum.series == 'SMR'"}],
                 "mark": {"type": "bar", "fill": "#e0304e", "stroke": "#b3223c", "strokeWidth": 1.5},
                 "encoding": {
                   "x": {"field": "start", "type": "quantitative", "title": "EPC Cost ($/KW)", "scale": {"domain": [3500, 7283], "nice": false, "zero": false, "padding": 0}, "axis": {"values": [3500, 4500, 5500, 6500], "format": "$,.0f", "titleX": 287, "labelPadding": 13, "titlePadding": 9}},
                   "x2": {"field": "end"},
                   "y": {"field": "freq", "type": "quantitative", "title": "Relative Frequency (%)", "scale": {"domain": [0, 14.41], "nice": false, "padding": 0}, "axis": {"values": [0, 2, 4, 6, 8, 10, 12, 14], "labelExpr": "datum.value + '%'", "titlePadding": 16, "titleY": 165, "domainDash": [306, 1000]}},
                   "y2": {"datum": 0}
                 }},
                {"data": {"name": "bars"}, "transform": [{"filter": "datum.panel == 'epc' && datum.series == 'LWR'"}],
                 "mark": {"type": "bar", "fill": "#0000ff", "stroke": "#0000b0", "strokeWidth": 1.5, "opacity": 0.875},
                 "encoding": {
                   "x": {"field": "start", "type": "quantitative", "title": "EPC Cost ($/KW)", "scale": {"domain": [3500, 7283], "nice": false, "zero": false, "padding": 0}},
                   "x2": {"field": "end"},
                   "y": {"field": "freq", "type": "quantitative", "title": "Relative Frequency (%)", "scale": {"domain": [0, 14.41], "nice": false, "padding": 0}},
                   "y2": {"datum": 0}
                 }},
                {"data": {"name": "notes"}, "transform": [{"filter": "datum.panel == 'epc'"}],
                 "mark": {"type": "text", "align": "left", "baseline": "middle", "fontSize": 16, "fontWeight": "bold"},
                 "encoding": {
                   "x": {"field": "x", "type": "quantitative", "title": "EPC Cost ($/KW)", "scale": {"domain": [3500, 7283], "nice": false, "zero": false, "padding": 0}},
                   "y": {"field": "y", "type": "quantitative", "title": "Relative Frequency (%)", "scale": {"domain": [0, 14.41], "nice": false, "padding": 0}},
                   "text": {"field": "label"},
                   "color": {"field": "series", "type": "nominal", "scale": {"domain": ["SMR", "LWR"], "range": ["#ff0a0a", "#2424b4"]}, "legend": null}
                 }}
              ]
            }
          ]
        },
        {
          "spacing": 8,
          "hconcat": [
            {
              "width": 522, "height": 306,
              "layer": [
                {"data": {"name": "bars"}, "transform": [{"filter": "datum.panel == 'dur' && datum.series == 'SMR'"}],
                 "mark": {"type": "bar", "fill": "#e0304e", "stroke": "#b3223c", "strokeWidth": 1.5},
                 "encoding": {
                   "x": {"field": "start", "type": "quantitative", "title": "Construction Duration (Years)", "scale": {"domain": [2, 8.35], "nice": false, "zero": false, "padding": 0}, "axis": {"values": [2, 3, 4, 5, 6, 7, 8], "format": "d", "titleX": 287, "labelPadding": 11, "titlePadding": 11}},
                   "x2": {"field": "end"},
                   "y": {"field": "freq", "type": "quantitative", "title": "Relative Frequnqcy (%)", "scale": {"domain": [0, 25], "nice": false, "padding": 0}, "axis": {"values": [0, 5, 10, 15, 20, 25], "labelExpr": "datum.value + '%'", "titlePadding": 16}},
                   "y2": {"datum": 0}
                 }},
                {"data": {"name": "bars"}, "transform": [{"filter": "datum.panel == 'dur' && datum.series == 'LWR'"}],
                 "mark": {"type": "bar", "fill": "#0000ff", "stroke": "#0000b0", "strokeWidth": 1.5, "opacity": 0.875},
                 "encoding": {
                   "x": {"field": "start", "type": "quantitative", "title": "Construction Duration (Years)", "scale": {"domain": [2, 8.35], "nice": false, "zero": false, "padding": 0}},
                   "x2": {"field": "end"},
                   "y": {"field": "freq", "type": "quantitative", "title": "Relative Frequnqcy (%)", "scale": {"domain": [0, 25], "nice": false, "padding": 0}},
                   "y2": {"datum": 0}
                 }},
                {"data": {"name": "notes"}, "transform": [{"filter": "datum.panel == 'dur'"}],
                 "mark": {"type": "text", "align": "left", "baseline": "middle", "fontSize": 16, "fontWeight": "bold"},
                 "encoding": {
                   "x": {"field": "x", "type": "quantitative", "title": "Construction Duration (Years)", "scale": {"domain": [2, 8.35], "nice": false, "zero": false, "padding": 0}},
                   "y": {"field": "y", "type": "quantitative", "title": "Relative Frequnqcy (%)", "scale": {"domain": [0, 25], "nice": false, "padding": 0}},
                   "text": {"field": "label"},
                   "color": {"field": "series", "type": "nominal", "scale": {"domain": ["SMR", "LWR"], "range": ["#ff0a0a", "#2424b4"]}, "legend": null}
                 }}
              ]
            },
            {
              "width": 529, "height": 309,
              "layer": [
                {"data": {"name": "bars"}, "transform": [{"filter": "datum.panel == 'coc' && datum.series == 'SMR'"}],
                 "mark": {"type": "bar", "fill": "#e0304e", "stroke": "#b3223c", "strokeWidth": 1.5},
                 "encoding": {
                   "x": {"field": "start", "type": "quantitative", "title": "Cost of Capital (%)", "scale": {"domain": [4, 8.23], "nice": false, "zero": false, "padding": 0}, "axis": {"values": [4, 5, 6, 7, 8], "labelExpr": "format(datum.value, '.1f') + '%'", "titleX": 282, "labelPadding": 12, "titlePadding": 10}},
                   "x2": {"field": "end"},
                   "y": {"field": "freq", "type": "quantitative", "title": "Relative Frequency (%)", "scale": {"domain": [0, 12], "nice": false, "padding": 0}, "axis": {"values": [0, 2, 4, 6, 8, 10, 12], "labelExpr": "datum.value + '%'", "titlePadding": 9}},
                   "y2": {"datum": 0}
                 }},
                {"data": {"name": "bars"}, "transform": [{"filter": "datum.panel == 'coc' && datum.series == 'LWR'"}],
                 "mark": {"type": "bar", "fill": "#0000ff", "stroke": "#0000b0", "strokeWidth": 1.5, "opacity": 0.875},
                 "encoding": {
                   "x": {"field": "start", "type": "quantitative", "title": "Cost of Capital (%)", "scale": {"domain": [4, 8.23], "nice": false, "zero": false, "padding": 0}},
                   "x2": {"field": "end"},
                   "y": {"field": "freq", "type": "quantitative", "title": "Relative Frequency (%)", "scale": {"domain": [0, 12], "nice": false, "padding": 0}},
                   "y2": {"datum": 0}
                 }},
                {"data": {"name": "notes"}, "transform": [{"filter": "datum.panel == 'coc'"}],
                 "mark": {"type": "text", "align": "left", "baseline": "middle", "fontSize": 16, "fontWeight": "bold"},
                 "encoding": {
                   "x": {"field": "x", "type": "quantitative", "title": "Cost of Capital (%)", "scale": {"domain": [4, 8.23], "nice": false, "zero": false, "padding": 0}},
                   "y": {"field": "y", "type": "quantitative", "title": "Relative Frequency (%)", "scale": {"domain": [0, 12], "nice": false, "padding": 0}},
                   "text": {"field": "label"},
                   "color": {"field": "series", "type": "nominal", "scale": {"domain": ["SMR", "LWR"], "range": ["#ff0a0a", "#2424b4"]}, "legend": null}
                 }}
              ]
            }
          ]
        }
      ]
    }
  ],
  "config": {
    "font": "Lato",
    "view": {"stroke": null},
    "scale": {"continuousPadding": 0},
    "axis": {"grid": false, "domainColor": "#8a8a8a", "domainWidth": 1, "tickColor": "#8a8a8a", "tickSize": 5, "labelFont": "Lato", "labelFontSize": 16, "labelColor": "#1a1a1a", "titleFont": "Lato", "titleFontSize": 16, "titleFontWeight": "bold", "titleColor": "#000000"},
    "axisX": {"labelPadding": 9, "titlePadding": 8, "labelFlush": false},
    "axisY": {"labelPadding": 10}
  }
}
